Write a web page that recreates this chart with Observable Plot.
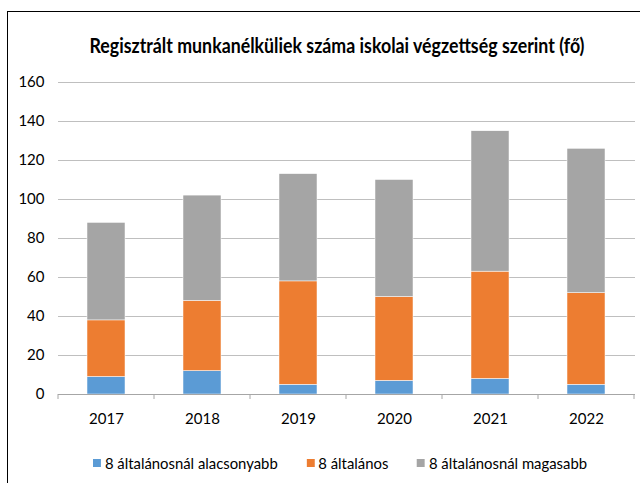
<!DOCTYPE html>
<html>
<head>
<meta charset="utf-8">
<script src="https://cdn.jsdelivr.net/npm/d3@7"></script>
<script src="https://cdn.jsdelivr.net/npm/@observablehq/plot@0.6"></script>
<style>
  html, body { margin: 0; padding: 0; background: #fff; }
  #wrap { position: relative; width: 640px; height: 483px; overflow: hidden; font-family: Lato, "Open Sans", sans-serif; }
  #frame { position: absolute; left: 7px; top: 11px; width: 700px; height: 600px; border-left: 1.5px solid #000; border-top: 1.5px solid #000; }
  #title { position: absolute; top: 33px; left: 337px; white-space: nowrap; font-size: 20px; font-weight: bold; color: #000; transform-origin: 0 0; }
  #chart { position: absolute; left: 0; top: 70px; }
  #legend { position: absolute; top: 454px; left: 93px; display: flex; white-space: nowrap; font-size: 15px; color: #000; transform-origin: 0 0; }
  .item { display: flex; align-items: center; }
  .sw { width: 8px; height: 8px; margin-right: 4px; }
</style>
</head>
<body>
<div id="wrap">
  <div id="frame"></div>
  <div id="title">Regisztrált munkanélküliek száma iskolai végzettség szerint (fő)</div>
  <div id="chart"></div>
  <div id="legend"></div>
</div>
<script>
const years = ["2017", "2018", "2019", "2020", "2021", "2022"];
const seriesNames = ["8 általánosnál alacsonyabb", "8 általános", "8 általánosnál magasabb"];
const colors = ["#5B9BD5", "#ED7D31", "#A5A5A5"];
const lower = [9, 12, 5, 7, 8, 5];
const general = [29, 36, 53, 43, 55, 47];
const higher = [50, 54, 55, 60, 72, 74];
const yTicks = [0, 20, 40, 60, 80, 100, 120, 140, 160];

const seriesValues = [lower, general, higher];
const data = [];
seriesNames.forEach((s, i) => years.forEach((y, j) => data.push({year: y, series: s, value: seriesValues[i][j]})));

const font = 'Lato, "Open Sans", sans-serif';
const plot = Plot.plot({
  width: 640,
  height: 360,
  marginTop: 12,
  marginBottom: 36,
  marginLeft: 58,
  marginRight: 5,
  style: {fontFamily: font, fontSize: "15px", color: "#000", background: "transparent", overflow: "visible"},
  x: {domain: years, paddingInner: 0.6, paddingOuter: 0.3, label: null},
  y: {domain: [0, 160], ticks: yTicks, label: null},
  color: {domain: seriesNames, range: colors},
  marks: [
    Plot.gridY(yTicks, {stroke: "#BFBFBF", strokeOpacity: 1, strokeWidth: 1}),
    Plot.axisY(yTicks, {tickSize: 0, tickPadding: 14, fontSize: 15, label: null}),
    Plot.axisX({tickSize: 0, tickPadding: 19, fontSize: 15, label: null}),
    Plot.barY(data, {x: "year", y: "value", fill: "series", order: seriesNames, stroke: "#fff", strokeWidth: 0.5}),
    Plot.ruleY([0], {stroke: "#A6A6A6", strokeWidth: 1})
  ]
});
document.getElementById("chart").appendChild(plot);

// category boundary tick marks below the axis, from the plot's own x scale
const xs = plot.scale("x");
const ys = plot.scale("y");
const step = xs.step;
const gap = (step - xs.bandwidth) / 2;
const y0 = ys.apply(0);
const bounds = years.map(y => xs.apply(y) - gap).concat([xs.apply(years[years.length - 1]) + xs.bandwidth + gap]);
d3.select(plot).append("g").selectAll("line").data(bounds).join("line")
  .attr("x1", d => d).attr("x2", d => d)
  .attr("y1", y0).attr("y2", y0 + 5)
  .attr("stroke", "#A6A6A6").attr("stroke-width", 1);

const legend = document.getElementById("legend");
const gaps = [29, 29, 0];
seriesNames.forEach((s, i) => {
  const it = document.createElement("div");
  it.className = "item";
  it.style.marginRight = gaps[i] + "px";
  it.innerHTML = `<div class="sw" style="background:${colors[i]}"></div><span>${s}</span>`;
  legend.appendChild(it);
});

// fit condensed text widths to the reference's narrow font
const title = document.getElementById("title");
const tw = title.offsetWidth;
const ts = 495 / tw;
title.style.transform = `translateX(${-tw * ts / 2}px) scaleX(${ts})`;
const lw = legend.offsetWidth;
legend.style.transform = `scaleX(${494 / lw})`;
</script>
</body>
</html>
